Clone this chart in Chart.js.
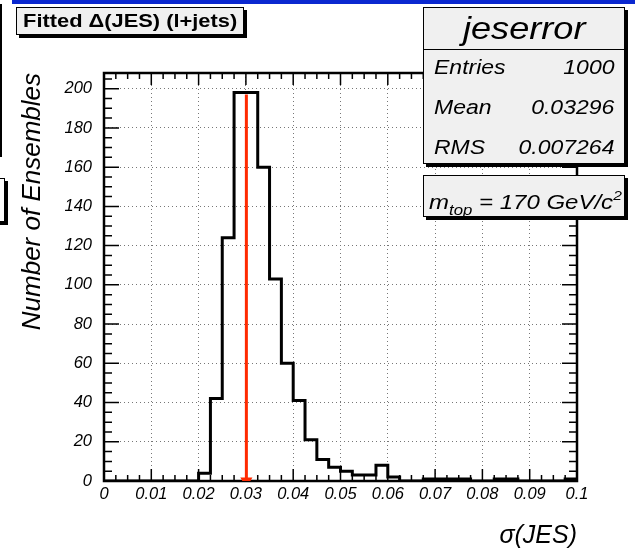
<!DOCTYPE html>
<html>
<head>
<meta charset="utf-8">
<script src="https://cdn.jsdelivr.net/npm/chart.js@4.4.0/dist/chart.umd.min.js"></script>
<style>
body { margin: 0; background: #fff; font-family: "Liberation Sans", Arial, sans-serif; }
#wrap { position: relative; width: 635px; height: 551px; overflow: hidden; }
#wrap canvas { position: absolute; left: 0; top: 0; }
.box { position: absolute; background: #f0f0f0; border: 1px solid #000; box-shadow: 3px 3px 0 #000; box-sizing: border-box; }
.sx { display: inline-block; transform: scaleX(1.15); }
#topbar { position: absolute; left: 12px; top: 0; width: 623px; height: 4px; background: #0a28d0; }
#leftline { position: absolute; left: 0; top: 4px; width: 2px; height: 153px; background: #000; }
#stub { position: absolute; left: -8px; top: 178px; width: 11px; height: 42px; border: 1px solid #000; box-shadow: 3px 3px 0 #000; background: #fff; }
#title { left: 16px; top: 7px; width: 228px; height: 28px; font-weight: bold; font-size: 19px; line-height: 26px; text-align: center; }
#title .sx { transform-origin: center; }
#stats { left: 423px; top: 7px; width: 202px; height: 157px; font-style: italic; }
#stats .name { height: 41px; border-bottom: 1px solid #000; font-size: 32px; line-height: 41px; text-align: center; }
#stats .name .sx { transform: scaleX(1.13); transform-origin: center; }
#stats .row { height: 40px; font-size: 20px; line-height: 34px; padding: 0 10px 0 10px; display: flex; justify-content: space-between; }
#stats .row .sx:first-child { transform-origin: left; }
#stats .row .sx:last-child { transform-origin: right; }
#mtop { left: 423px; top: 175px; width: 202px; height: 42px; font-style: italic; font-size: 20px; line-height: 40px; padding-left: 5px; }
#mtop .sx { transform: scaleX(1.2); transform-origin: left; }
#mtop sub { font-size: 14px; vertical-align: -6px; }
#mtop sup { font-size: 13px; vertical-align: 9px; }
</style>
</head>
<body>
<div id="wrap">
  <canvas id="histChart" width="635" height="551"></canvas>
  <div id="topbar"></div>
  <div id="leftline"></div>
  <div id="stub"></div>
  <div class="box" id="title"><span class="sx">Fitted &Delta;(JES) (l+jets)</span></div>
  <div class="box" id="stats">
    <div class="name"><span class="sx">jeserror</span></div>
    <div class="row"><span class="sx">Entries</span><span class="sx">1000</span></div>
    <div class="row"><span class="sx">Mean</span><span class="sx">0.03296</span></div>
    <div class="row"><span class="sx">RMS</span><span class="sx">0.007264</span></div>
  </div>
  <div class="box" id="mtop"><span class="sx">m<sub>top</sub> = 170 GeV/c<sup>2</sup></span></div>
</div>
<script>
// Histogram bin edges (sigma(JES)) and counts per bin
const binEdges = [0, 0.0025, 0.005, 0.0075, 0.01, 0.0125, 0.015, 0.0175, 0.02, 0.0225,
    0.025, 0.0275, 0.03, 0.0325, 0.035, 0.0375, 0.04, 0.0425, 0.045, 0.0475,
    0.05, 0.0525, 0.055, 0.0575, 0.06, 0.0625, 0.065, 0.0675, 0.07, 0.0725,
    0.075, 0.0775, 0.08, 0.0825, 0.085, 0.0875, 0.09, 0.0925, 0.095, 0.0975, 0.1];
const binCounts = [0, 0, 0, 0, 0, 0, 0, 0, 4, 42,
    124, 198, 198, 160, 103, 60, 41, 21, 11, 7,
    5, 3, 3, 8, 2, 0, 0, 1, 1, 1,
    1, 0, 0, 1, 1, 0, 0, 0, 0, 1];

// Red marker line (input value)
const markerX = 0.0301;
const markerTop = 197;

// Axis ticks
const xTickLabels = ['0', '0.01', '0.02', '0.03', '0.04', '0.05', '0.06', '0.07', '0.08', '0.09', '0.1'];
const yMax = 208;

// Build the step outline from the bins
const histPoints = [];
binCounts.forEach((c, i) => {
    histPoints.push({ x: binEdges[i], y: c });
    histPoints.push({ x: binEdges[i + 1], y: c });
});

const labelFont = { family: '"Liberation Sans", Arial, sans-serif', size: 16.5, style: 'italic' };

// Frame with inward ticks on all four sides, ROOT style
const frameTicks = {
    id: 'frameTicks',
    beforeDatasetsDraw(chart) {
        const { ctx, chartArea: a, scales: { x, y } } = chart;
        ctx.save();
        ctx.strokeStyle = '#000';
        ctx.lineWidth = 1.5;
        ctx.beginPath();
        for (let i = 0; i <= 40; i++) {
            const px = x.getPixelForValue(i * 0.0025);
            const len = i % 4 === 0 ? 12 : 6;
            ctx.moveTo(px, a.bottom); ctx.lineTo(px, a.bottom - len);
            ctx.moveTo(px, a.top); ctx.lineTo(px, a.top + len);
        }
        for (let v = 0; v <= yMax; v += 5) {
            const py = y.getPixelForValue(v);
            const len = v % 20 === 0 ? 15 : 8;
            ctx.moveTo(a.left, py); ctx.lineTo(a.left + len, py);
            ctx.moveTo(a.right, py); ctx.lineTo(a.right - len, py);
        }
        ctx.stroke();
        ctx.lineWidth = 2.5;
        ctx.strokeRect(a.left, a.top, a.right - a.left, a.bottom - a.top);
        ctx.restore();
    }
};

const ctx = document.getElementById('histChart').getContext('2d');
const histChart = new Chart(ctx, {
    type: 'line',
    data: {
        datasets: [
            {
                label: 'marker',
                data: [{ x: markerX, y: markerTop }, { x: markerX, y: 0 }],
                borderColor: '#ff2a00',
                backgroundColor: '#ff2a00',
                borderWidth: 3,
                pointRadius: [0, 4],
                pointStyle: 'triangle',
                pointRotation: 180,
                fill: false
            },
            {
                label: 'jeserror',
                data: histPoints,
                borderColor: '#000',
                borderWidth: 3,
                pointRadius: 0,
                fill: false,
                tension: 0
            }
        ]
    },
    options: {
        responsive: false,
        animation: false,
        layout: { padding: { top: 73, right: 58, left: 0, bottom: 0 } },
        plugins: { legend: { display: false }, tooltip: { enabled: false } },
        scales: {
            x: {
                type: 'linear',
                min: 0,
                max: 0.1,
                afterFit: scale => { scale.height = 70; },
                grid: { color: '#777', lineWidth: 1, drawTicks: false },
                border: { display: false, dash: [1, 3] },
                ticks: {
                    stepSize: 0.01,
                    color: '#000',
                    font: labelFont,
                    padding: 4,
                    maxRotation: 0,
                    callback: (v, i) => xTickLabels[i]
                },
                title: {
                    display: true,
                    text: '\u03c3(JES)',
                    align: 'end',
                    color: '#000',
                    font: { family: '"Liberation Sans", Arial, sans-serif', size: 25, style: 'italic' },
                    padding: { top: 0, bottom: 0 }
                }
            },
            y: {
                min: 0,
                max: yMax,
                afterFit: scale => { scale.width = 104; },
                grid: { color: '#777', lineWidth: 1, drawTicks: false },
                border: { display: false, dash: [1, 3] },
                ticks: {
                    stepSize: 20,
                    includeBounds: false,
                    color: '#000',
                    font: labelFont,
                    padding: 12
                },
                title: {
                    display: true,
                    text: 'Number of Ensembles',
                    align: 'end',
                    color: '#000',
                    font: { family: '"Liberation Sans", Arial, sans-serif', size: 26, style: 'italic' },
                    padding: { top: 17, bottom: 0 }
                }
            }
        }
    },
    plugins: [frameTicks]
});
</script>
</body>
</html>
